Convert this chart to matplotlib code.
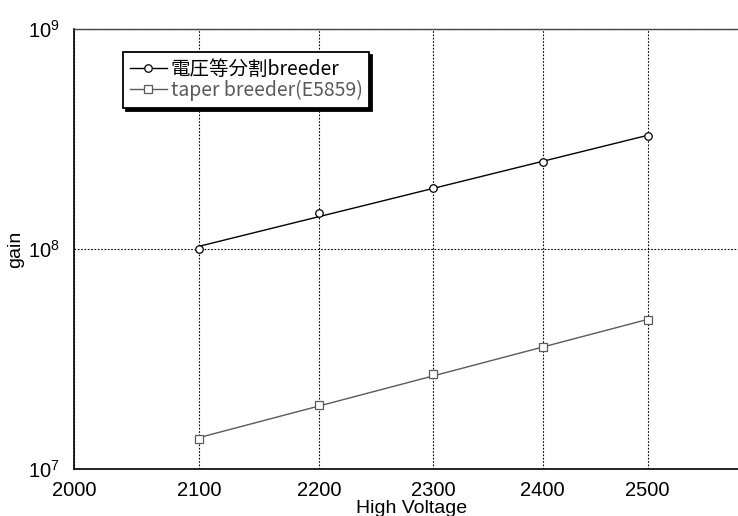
import numpy as np
import matplotlib
matplotlib.use("Agg")
import matplotlib.pyplot as plt
from matplotlib.lines import Line2D
from matplotlib.ticker import FixedLocator, NullLocator, FixedFormatter

plt.rcParams['font.family'] = ['Liberation Sans', 'DejaVu Sans']

# measured gain vs. high voltage
hv = [2100, 2200, 2300, 2400, 2500]
gain_equal = [1.00e8, 1.46e8, 1.89e8, 2.49e8, 3.26e8]
gain_taper = [1.37e7, 1.95e7, 2.70e7, 3.57e7, 4.74e7]
labels = ['電圧等分割breeder', 'taper breeder(E5859)']

xticks = [2000, 2100, 2200, 2300, 2400, 2500]
yticks = [1e7, 1e8, 1e9]
ytick_labels = [r'$\mathdefault{10^{7}}$', r'$\mathdefault{10^{8}}$', r'$\mathdefault{10^{9}}$']

fig = plt.figure(figsize=(7.38, 5.16), dpi=100)
# plot area runs past the right edge of the figure
ax = fig.add_axes([0.1003, 0.0911, 0.9137, 0.8527])

styles = [
    dict(color='black', marker='o', mec='black'),
    dict(color='#5a5a5a', marker='s', mec='#5a5a5a'),
]

handles = []
for gain, st, lab in zip([gain_equal, gain_taper], styles, labels):
    # power-law fit  gain = a * V^k  (straight on log-log)
    k, b = np.polyfit(np.log10(hv), np.log10(gain), 1)
    xf = np.array([hv[0], hv[-1]])
    ax.plot(xf, 10 ** (b + k * np.log10(xf)), color=st['color'], lw=1.0)
    ax.plot(hv, gain, ls='none', marker=st['marker'], ms=5.4,
            mfc='white', mec=st['mec'], mew=0.9)
    handles.append(Line2D([], [], color=st['color'], lw=1.0, marker=st['marker'],
                          ms=5.4, mfc='white', mec=st['mec'], mew=0.9, label=lab))

ax.set_xscale('log')
ax.set_yscale('log')
ax.set_xlim(2000, 2600)
ax.set_ylim(1e7, 1e9)

ax.xaxis.set_major_locator(FixedLocator(xticks))
ax.xaxis.set_major_formatter(FixedFormatter([str(v) for v in xticks]))
ax.xaxis.set_minor_locator(NullLocator())
ax.yaxis.set_major_locator(FixedLocator(yticks))
ax.yaxis.set_major_formatter(FixedFormatter(ytick_labels))
ax.yaxis.set_minor_locator(NullLocator())

ax.tick_params(axis='x', length=0, pad=8.5, labelsize=14.5)
ax.tick_params(axis='y', length=0, pad=10, labelsize=14.5)

ax.grid(True, which='major', color='black', lw=0.8, ls=(0, (1.5, 1.5)))

for side in ['left', 'bottom']:
    ax.spines[side].set_linewidth(1.2)
    ax.spines[side].set_color('black')
ax.spines['top'].set_color('#444444')
ax.spines['top'].set_linestyle((0, (1.5, 1.0)))
ax.spines['top'].set_linewidth(1.0)

ax.set_xlabel('High Voltage', fontsize=14, labelpad=0.5)
ax.set_ylabel('gain', fontsize=14, labelpad=3)

leg = ax.legend(handles=handles, loc='upper left',
                bbox_to_anchor=(123 / 738, 1 - 52 / 516),
                bbox_transform=fig.transFigure, borderaxespad=0,
                prop={'family': ['Noto Sans CJK JP', 'DejaVu Sans'], 'size': 14},
                fancybox=False, framealpha=1, edgecolor='black',
                shadow={'color': 'black', 'alpha': 1},
                handlelength=1.9, handletextpad=0.2, borderpad=0.35,
                labelspacing=0.0, labelcolor='linecolor')
leg.get_frame().set_linewidth(1.3)

fig.savefig('out.png', dpi=100)
